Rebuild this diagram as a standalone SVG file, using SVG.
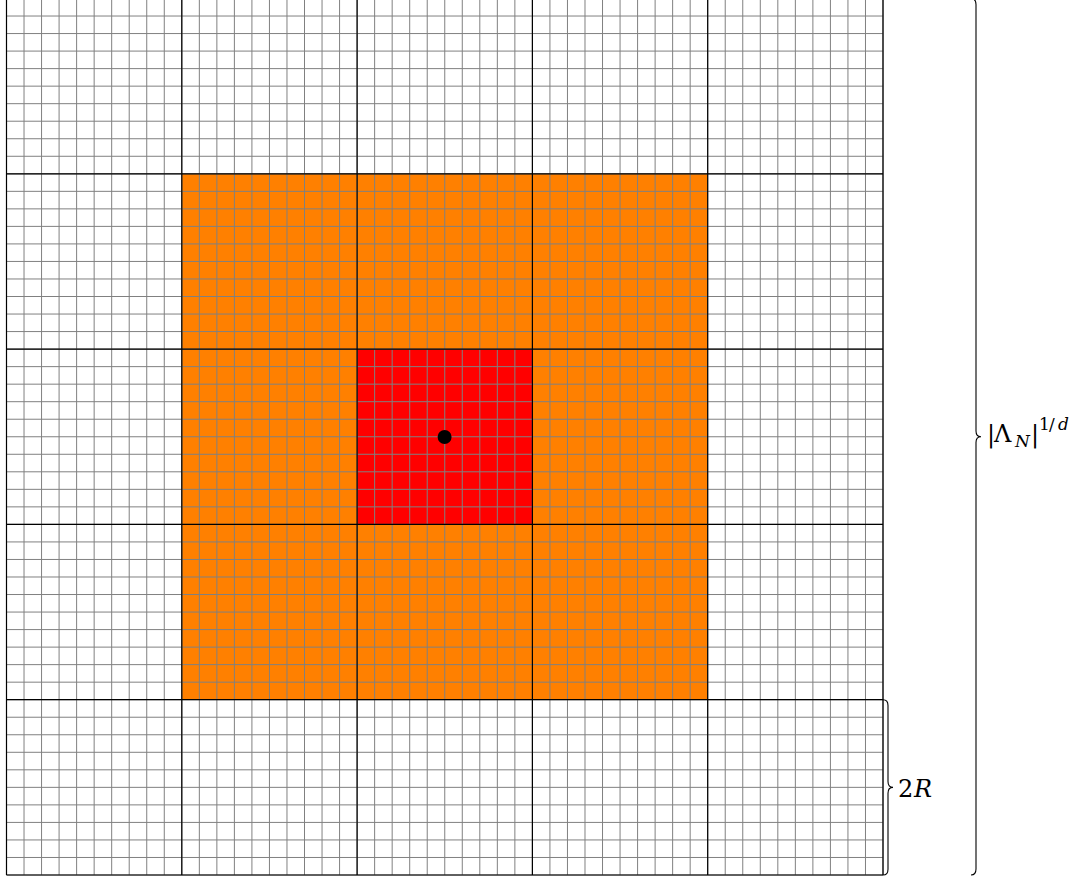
<svg xmlns="http://www.w3.org/2000/svg" width="1078" height="878" viewBox="0 0 1078 878">
<style>
.fine{stroke:#808080;stroke-width:1;fill:none}
.major{stroke:#000;stroke-width:1.2;fill:none}
.brace{stroke:#000;stroke-width:1.1;fill:none}
.lbl{font-family:'DejaVu Serif','Liberation Serif',serif;fill:#000}
</style>
<rect width="1078" height="878" fill="#fff"/>
<g id="fills">
<rect x="181.8" y="173.8" width="525.9" height="525.9" fill="#FF8000"/>
<rect x="357.1" y="349.1" width="175.3" height="175.3" fill="#FF0000"/>
</g>
<g id="fine-grid">
<path class="fine" d="M6.5,-1.5V875M24.03,-1.5V875M41.56,-1.5V875M59.09,-1.5V875M76.62,-1.5V875M94.15,-1.5V875M111.68,-1.5V875M129.21,-1.5V875M146.74,-1.5V875M164.27,-1.5V875M181.8,-1.5V875M199.33,-1.5V875M216.86,-1.5V875M234.39,-1.5V875M251.92,-1.5V875M269.45,-1.5V875M286.98,-1.5V875M304.51,-1.5V875M322.04,-1.5V875M339.57,-1.5V875M357.1,-1.5V875M374.63,-1.5V875M392.16,-1.5V875M409.69,-1.5V875M427.22,-1.5V875M444.75,-1.5V875M462.28,-1.5V875M479.81,-1.5V875M497.34,-1.5V875M514.87,-1.5V875M532.4,-1.5V875M549.93,-1.5V875M567.46,-1.5V875M584.99,-1.5V875M602.52,-1.5V875M620.05,-1.5V875M637.58,-1.5V875M655.11,-1.5V875M672.64,-1.5V875M690.17,-1.5V875M707.7,-1.5V875M725.23,-1.5V875M742.76,-1.5V875M760.29,-1.5V875M777.82,-1.5V875M795.35,-1.5V875M812.88,-1.5V875M830.41,-1.5V875M847.94,-1.5V875M865.47,-1.5V875M883,-1.5V875"/>
<path class="fine" d="M6.5,16.03H883M6.5,33.56H883M6.5,51.09H883M6.5,68.62H883M6.5,86.15H883M6.5,103.68H883M6.5,121.21H883M6.5,138.74H883M6.5,156.27H883M6.5,173.8H883M6.5,191.33H883M6.5,208.86H883M6.5,226.39H883M6.5,243.92H883M6.5,261.45H883M6.5,278.98H883M6.5,296.51H883M6.5,314.04H883M6.5,331.57H883M6.5,349.1H883M6.5,366.63H883M6.5,384.16H883M6.5,401.69H883M6.5,419.22H883M6.5,436.75H883M6.5,454.28H883M6.5,471.81H883M6.5,489.34H883M6.5,506.87H883M6.5,524.4H883M6.5,541.93H883M6.5,559.46H883M6.5,576.99H883M6.5,594.52H883M6.5,612.05H883M6.5,629.58H883M6.5,647.11H883M6.5,664.64H883M6.5,682.17H883M6.5,699.7H883M6.5,717.23H883M6.5,734.76H883M6.5,752.29H883M6.5,769.82H883M6.5,787.35H883M6.5,804.88H883M6.5,822.41H883M6.5,839.94H883M6.5,857.47H883M6.5,875H883"/>
</g>
<g id="major-grid">
<path class="major" d="M6.5,-1.5V875M181.8,-1.5V875M357.1,-1.5V875M532.4,-1.5V875M707.7,-1.5V875M883,-1.5V875M6.5,-1.5H883M6.5,173.8H883M6.5,349.1H883M6.5,524.4H883M6.5,699.7H883M6.5,875H883"/>
</g>
<g id="center-point">
<circle cx="444.6" cy="437" r="7" fill="#000"/>
</g>
<g id="brace-2R">
<path class="brace" d="M883,699.7Q888,699.7 888,705.5L888,781.5Q888,787.35 893,787.35Q888,787.35 888,793.2L888,869.2Q888,875 883,875"/>
<text class="lbl" font-size="24" x="898" y="797">2<tspan font-style="italic" x="914">R</tspan></text>
</g>
<g id="brace-Lambda">
<path class="brace" d="M971,-1.5Q976,-1.5 976,4.5L976,431Q976,436.75 981,436.75Q976,436.75 976,442.5L976,869Q976,875 971,875"/>
<text class="lbl" font-size="24" x="987" y="442">|<tspan x="994">Λ</tspan><tspan font-style="italic" x="1015" dy="5" font-size="17">N</tspan><tspan x="1031" dy="-5">|</tspan><tspan x="1039" dy="-12" font-size="17">1</tspan><tspan x="1049" font-size="17">/</tspan><tspan font-style="italic" x="1058" font-size="17">d</tspan></text>
</g>
</svg>
